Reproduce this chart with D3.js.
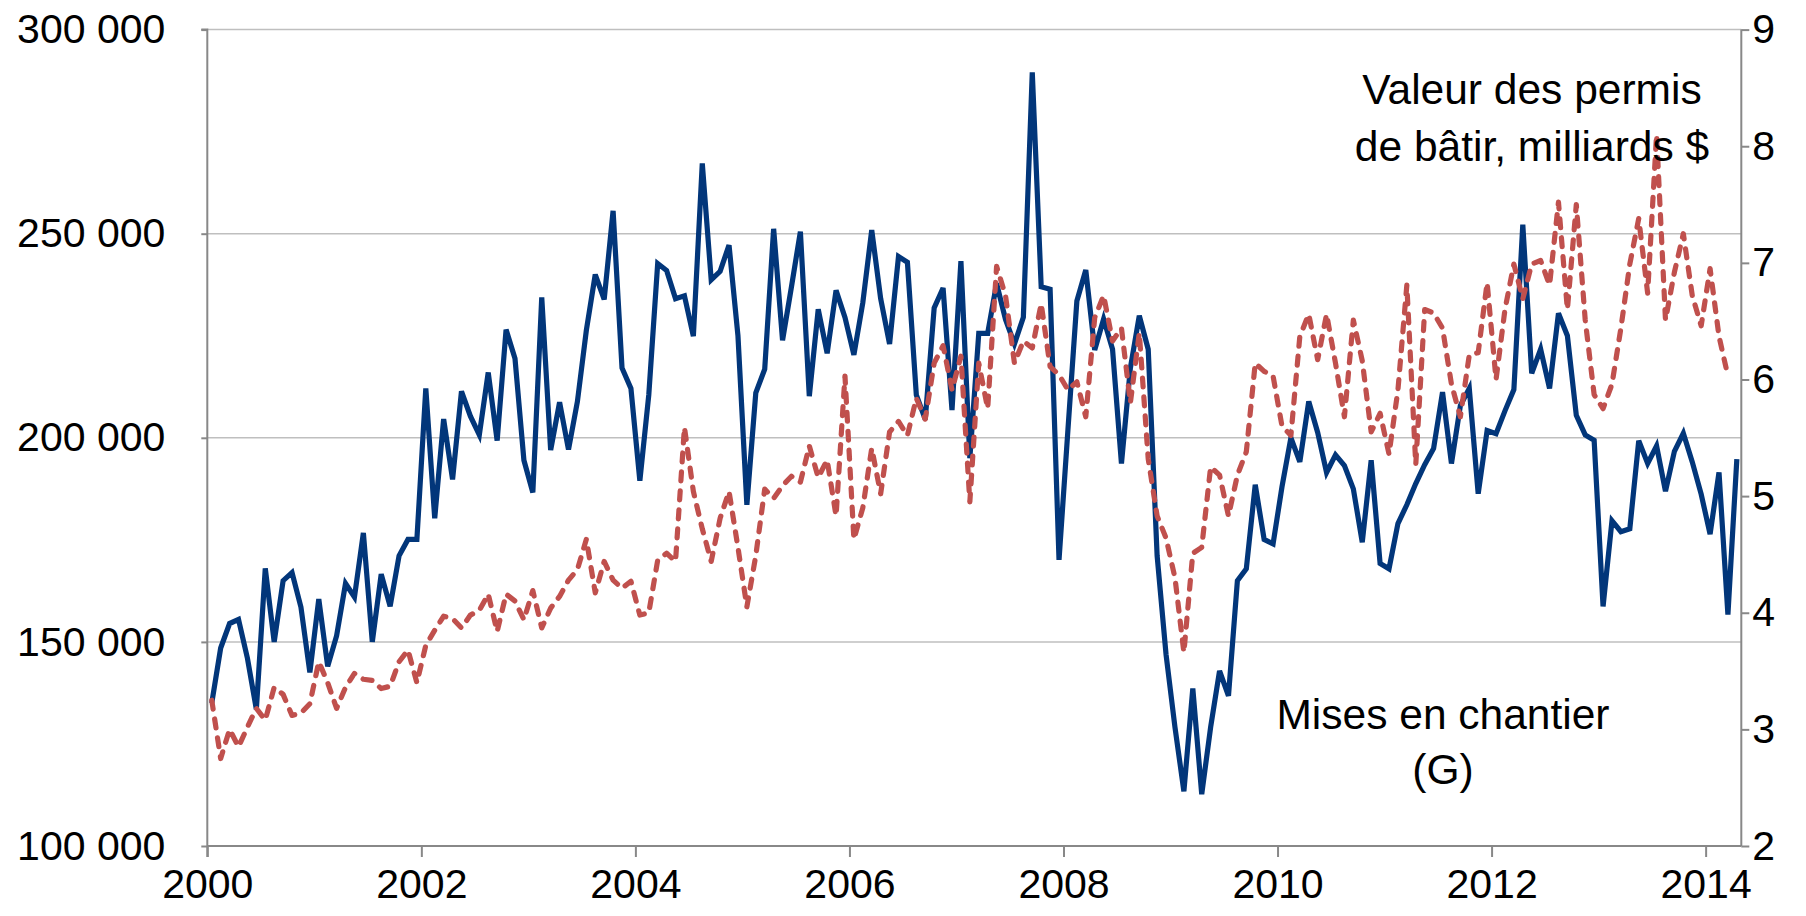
<!DOCTYPE html>
<html>
<head>
<meta charset="utf-8">
<script src="https://cdn.jsdelivr.net/npm/d3@7"></script>
<style>
  html, body { margin: 0; padding: 0; background: #fff; }
  svg { display: block; font-family: "Liberation Sans", Arial, sans-serif; }
</style>
</head>
<body>
<svg id="chart" width="1806" height="916"></svg>
<script>
// ---- Data (monthly, Jan 2000 onward) ----
const startYear = 2000;
const nMonths = 172;
const xTickYears = [2000, 2002, 2004, 2006, 2008, 2010, 2012, 2014];
const leftTicks = [100000, 150000, 200000, 250000, 300000];
const rightTicks = [2, 3, 4, 5, 6, 7, 8, 9];

// Mises en chantier (left axis)
const housingStarts = [
  135000,148500,154500,155500,146000,133500,168000,150000,165000,167000,158500,142500,
  160500,144000,151500,164300,161000,176700,150000,166600,158700,171100,175100,175100,
  212100,180300,204600,189800,211400,205300,200700,216000,199300,226500,219400,194500,
  186600,234400,197000,208700,197100,208900,226300,240000,233900,255600,217100,212100,
  189500,210500,242700,241000,234100,234800,224900,267200,238700,240800,247200,225000,
  183600,211000,216800,251200,223900,237000,250500,210200,231500,220700,236100,229500,
  220300,233100,250900,234100,223000,244400,243000,210500,204500,231800,236700,206800,
  243300,195000,225600,225600,237800,229000,223000,229500,289500,237000,236400,170100,
  202000,233500,241100,221500,229100,221700,193700,217100,229900,221700,171100,146900,
  129100,113400,138600,112700,129100,142900,136800,165000,167900,188500,175100,174000,
  188000,200000,194100,208900,201300,191500,195800,193200,187500,174400,194500,169200,
  167900,179000,183600,188800,193400,197400,211200,193700,207900,212100,186300,201800,
  201000,206600,211800,252200,215800,221700,212100,230500,225000,205500,200700,199400,
  158700,179700,177000,177700,199300,193700,198000,186900,196700,201100,194100,186200,
  176400,191500,156700,194800
];

// Valeur des permis de bâtir, milliards $ (right axis)
const permitValues = [
  3.25,2.75,3.00,2.85,3.02,3.18,3.08,3.36,3.30,3.12,3.14,3.22,
  3.58,3.40,3.18,3.36,3.48,3.43,3.42,3.35,3.37,3.58,3.68,3.40,
  3.72,3.85,3.97,3.95,3.87,3.98,4.02,4.16,3.84,4.16,4.10,3.94,
  4.19,3.87,4.04,4.14,4.28,4.37,4.63,4.17,4.44,4.28,4.21,4.27,
  3.98,4.00,4.45,4.51,4.44,5.59,5.04,4.72,4.44,4.81,5.04,4.56,
  4.05,4.49,5.06,4.98,5.09,5.17,5.12,5.43,5.16,5.31,4.83,6.03,
  4.63,4.90,5.41,5.02,5.55,5.64,5.52,5.84,5.66,6.14,6.29,5.91,
  6.20,4.95,6.14,5.75,6.97,6.72,6.14,6.33,6.27,6.65,6.11,6.04,
  5.91,5.98,5.68,6.53,6.72,6.33,6.44,5.80,6.40,5.32,4.83,4.64,
  4.30,3.66,4.51,4.56,5.25,5.18,4.83,5.18,5.38,6.14,6.07,6.03,
  5.60,5.52,6.37,6.56,6.17,6.56,6.14,5.68,6.51,6.16,5.55,5.71,
  5.36,5.91,6.81,5.27,6.60,6.57,6.44,5.96,5.68,6.21,6.23,6.83,
  6.00,6.60,6.99,6.69,6.99,7.02,6.81,7.52,6.60,7.50,6.51,5.87,
  5.75,5.96,6.44,6.99,7.38,6.74,8.10,6.51,6.92,7.25,6.72,6.46,
  6.95,6.37,6.03
];

const labelPermits = ["Valeur des permis", "de bâtir, milliards $"];
const labelStarts = ["Mises en chantier", "(G)"];

// ---- Layout ----
const svg = d3.select("#chart");
const L = 207.3, R = 1741.3, T = 29.6, B = 846;
const tickFont = 41;
const noteFont = 42.5;

const x = d3.scaleLinear().domain([0, nMonths]).range([L, R]);
const yL = d3.scaleLinear().domain([100000, 300000]).range([B, T]);
const yR = d3.scaleLinear().domain([2, 9]).range([B, T]);

const fmt = v => d3.format(",")(v).replace(/,/g, " ");

// Gridlines
svg.append("g").selectAll("line").data(leftTicks.filter(d => d > 100000)).join("line")
  .attr("x1", L).attr("x2", R)
  .attr("y1", d => yL(d)).attr("y2", d => yL(d))
  .attr("stroke", "#bfbfbf").attr("stroke-width", 1.5);

// Left axis
const gLeft = svg.append("g").attr("transform", `translate(${L},0)`)
  .call(d3.axisLeft(yL).tickValues(leftTicks).tickSize(6).tickPadding(36).tickFormat(fmt));
// Right axis
const gRight = svg.append("g").attr("transform", `translate(${R},0)`)
  .call(d3.axisRight(yR).tickValues(rightTicks).tickSize(8).tickPadding(3).tickFormat(d3.format("d")));
// Bottom axis
const gBottom = svg.append("g").attr("transform", `translate(0,${B})`)
  .call(d3.axisBottom(x).tickValues(xTickYears.map(yr => (yr - startYear) * 12))
    .tickSize(11).tickPadding(12).tickFormat(d => String(startYear + d / 12)));

[gLeft, gRight, gBottom].forEach(g => {
  g.selectAll(".domain").attr("stroke", "#888").attr("stroke-width", 2);
  g.selectAll(".tick line").attr("stroke", "#888").attr("stroke-width", 2);
  g.selectAll("text").attr("font-size", tickFont).attr("fill", "#000")
    .attr("font-family", '"Liberation Sans", Arial, sans-serif');
});
gBottom.select(".domain").attr("d", `M${L},0H${R}`);
gLeft.select(".domain").attr("d", `M-6,${T}H0V${B + 11}`);
gRight.select(".domain").attr("d", `M0,${T}V${B}`);

// Lines
const lineL = d3.line().x((d, i) => x(i + 0.5)).y(d => yL(d));
const lineR = d3.line().x((d, i) => x(i + 0.5)).y(d => yR(d));

svg.append("path").datum(housingStarts)
  .attr("d", lineL).attr("fill", "none")
  .attr("stroke", "#02367a").attr("stroke-width", 5.2)
  .attr("stroke-linejoin", "miter");

svg.append("path").datum(permitValues)
  .attr("d", lineR).attr("fill", "none")
  .attr("stroke", "#c0504d").attr("stroke-width", 5.2)
  .attr("stroke-dasharray", "9,10").attr("stroke-linecap", "round")
  .attr("stroke-linejoin", "round");

// Annotations
svg.append("text").attr("x", 1532).attr("y", 104).attr("text-anchor", "middle")
  .attr("font-size", noteFont).text(labelPermits[0]);
svg.append("text").attr("x", 1532).attr("y", 161).attr("text-anchor", "middle")
  .attr("font-size", noteFont).text(labelPermits[1]);
svg.append("text").attr("x", 1443).attr("y", 729).attr("text-anchor", "middle")
  .attr("font-size", noteFont).text(labelStarts[0]);
svg.append("text").attr("x", 1443).attr("y", 784).attr("text-anchor", "middle")
  .attr("font-size", noteFont).text(labelStarts[1]);
</script>
</body>
</html>
